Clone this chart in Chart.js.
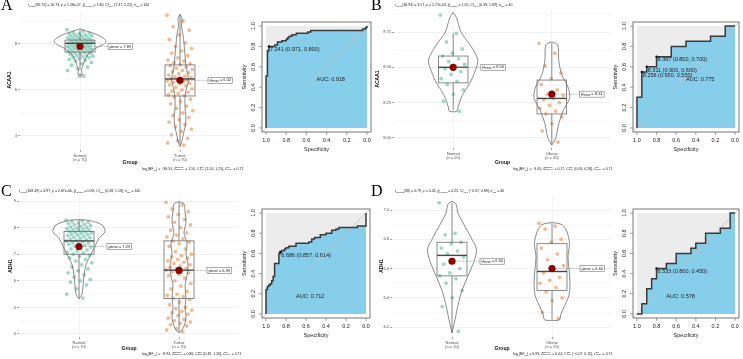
<!DOCTYPE html>
<html>
<head>
<meta charset="utf-8">
<script src="https://cdn.jsdelivr.net/npm/chart.js"></script>
<style>
body { margin: 0; width: 743px; height: 359px; position: relative; overflow: hidden; background: #fff; font-family: "Liberation Sans", Arial, sans-serif; }
canvas { position: absolute; }
.letter { position: absolute; font-family: "Liberation Serif", serif; font-size: 16px; line-height: 16px; color: #000; }
.note { position: absolute; white-space: nowrap; font-size: 7px; line-height: 8px; transform: scale(0.5); transform-origin: 0 0; color: #1a1a1a; z-index: 5; }
.note sub { font-size: 65%; vertical-align: -0.3em; line-height: 0; }
.ss { display: inline-block; vertical-align: middle; font-size: 55%; line-height: 1; }
.ss span { display: block; }
</style>
</head>
<body>
<canvas id="vA" width="250" height="172" style="left:0;top:0"></canvas>
<canvas id="vB" width="250" height="172" style="left:370px;top:0"></canvas>
<canvas id="vC" width="250" height="179" style="left:0;top:180px"></canvas>
<canvas id="vD" width="250" height="179" style="left:370px;top:180px"></canvas>
<canvas id="rA" width="145" height="140" style="left:232px;top:14px"></canvas>
<canvas id="rB" width="141" height="140" style="left:602px;top:14px"></canvas>
<canvas id="rC" width="145" height="140" style="left:232px;top:201px"></canvas>
<canvas id="rD" width="141" height="140" style="left:602px;top:201px"></canvas>

<div class="letter" style="left:1px;top:-3px">A</div>
<div class="letter" style="left:371px;top:-3px">B</div>
<div class="letter" style="left:1px;top:183px">C</div>
<div class="letter" style="left:371px;top:183px">D</div>

<div class="note" style="left:28px;top:3px"><i>t</i><sub>Welch</sub>(85.71) = 16.73, <i>p</i> = 1.58e-17, <i>ĝ</i><sub>Hedges</sub> = 1.80, CI<sub>95%</sub> [1.37, 2.22], <i>n</i><sub>obs</sub> = 140</div>
<div class="note" style="left:395px;top:3px"><i>t</i><sub>Welch</sub>(36.94) = 3.57, <i>p</i> = 1.77e-03, <i>ĝ</i><sub>Hedges</sub> = 1.05, CI<sub>95%</sub> [0.39, 1.69], <i>n</i><sub>obs</sub> = 40</div>
<div class="note" style="left:19px;top:189px"><i>t</i><sub>Welch</sub>(108.49) = 4.97, <i>p</i> = 2.87e-06, <i>ĝ</i><sub>Hedges</sub> = 0.83, CI<sub>95%</sub> [0.48, 1.18], <i>n</i><sub>obs</sub> = 140</div>
<div class="note" style="left:395px;top:189px"><i>t</i><sub>Student</sub>(38) = 0.79, <i>p</i> = 0.43, <i>ĝ</i><sub>Hedges</sub> = 0.25, CI<sub>95%</sub> [−0.37, 0.88], <i>n</i><sub>obs</sub> = 40</div>

<div class="note" style="left:142px;top:167px">log<sub>e</sub>(BF<sub>01</sub>) = −36.53, <i>δ̂</i><span class="ss"><span>posterior</span><span>difference</span></span> = 1.50, CI<span class="ss"><span>ETI</span><span>95%</span></span> [1.24, 1.75], <i>r</i><span class="ss"><span>JZS</span><span>Cauchy</span></span> = 0.71</div>
<div class="note" style="left:513px;top:167px">log<sub>e</sub>(BF<sub>01</sub>) = −3.05, <i>δ̂</i><span class="ss"><span>posterior</span><span>difference</span></span> = 0.17, CI<span class="ss"><span>ETI</span><span>95%</span></span> [0.05, 0.28], <i>r</i><span class="ss"><span>JZS</span><span>Cauchy</span></span> = 0.71</div>
<div class="note" style="left:142px;top:352px">log<sub>e</sub>(BF<sub>01</sub>) = −8.94, <i>δ̂</i><span class="ss"><span>posterior</span><span>difference</span></span> = 0.86, CI<span class="ss"><span>ETI</span><span>95%</span></span> [0.49, 1.20], <i>r</i><span class="ss"><span>JZS</span><span>Cauchy</span></span> = 0.71</div>
<div class="note" style="left:513px;top:352px">log<sub>e</sub>(BF<sub>01</sub>) = 0.93, <i>δ̂</i><span class="ss"><span>posterior</span><span>difference</span></span> = 0.04, CI<span class="ss"><span>ETI</span><span>95%</span></span> [−0.07, 0.15], <i>r</i><span class="ss"><span>JZS</span><span>Cauchy</span></span> = 0.71</div>

<script>
// ---------- panel A : ACAA1, TCGA ----------
const groupsA = ['Normal', 'Tumor'];
const countsA = [70, 70];
const normalA = [8.62,8.55,8.5,8.48,8.45,8.43,8.4,8.38,8.36,8.35,8.33,8.3,8.28,8.27,8.25,8.22,8.2,8.19,8.18,8.15,
  8.13,8.12,8.1,8.08,8.07,8.05,8.04,8.02,8.0,7.99,7.97,7.96,7.94,7.93,7.9,7.89,7.87,7.85,7.84,7.82,
  7.8,7.78,7.76,7.75,7.72,7.7,7.68,7.66,7.64,7.62,7.6,7.57,7.55,7.52,7.5,7.47,7.45,7.42,7.4,7.37,
  7.33,7.3,7.26,7.2,7.15,7.08,7.0,6.92,6.85,6.62];
const tumorA = [9.25,9.0,8.75,8.6,8.4,8.2,8.05,7.9,7.8,7.7,7.6,7.5,7.4,7.3,7.25,7.2,7.15,7.1,7.05,7.0,
  6.95,6.9,6.85,6.8,6.75,6.7,6.65,6.6,6.57,6.54,6.5,6.48,6.45,6.42,6.4,6.37,6.33,6.3,6.27,6.22,
  6.18,6.12,6.05,6.0,5.95,5.9,5.85,5.8,5.75,5.7,5.6,5.5,5.4,5.3,5.2,5.1,5.0,4.9,4.8,4.7,
  4.6,4.5,4.4,4.3,4.2,4.05,3.9,3.8,3.7,3.6];
const meansA = [7.89, 6.42];
// lower whisker, q1, median, q3, upper whisker
const boxNormalA = [6.87, 7.65, 8.03, 8.17, 8.62];
const boxTumorA = [3.6, 5.74, 6.48, 7.09, 9.26];
const outliersA = [[6.62], []];
// violin outline: [value, half width]
const violinNormalA = [[8.66,0],[8.6,0.04],[8.47,0.13],[8.3,0.22],[8.1,0.26],[7.95,0.22],[7.8,0.15],[7.6,0.09],[7.4,0.06],[7.2,0.04],[7.0,0.025],[6.85,0.015],[6.72,0.02],[6.62,0]];
const violinTumorA = [[9.3,0],[9.1,0.02],[8.8,0.015],[8.4,0.03],[8.0,0.04],[7.5,0.05],[7.0,0.06],[6.6,0.08],[6.3,0.08],[6.0,0.06],[5.6,0.05],[5.2,0.05],[4.8,0.06],[4.4,0.05],[4.0,0.03],[3.7,0.015],[3.55,0]];
const yTicksA = [4, 5, 6, 7, 8, 9];
const rocSpecA = [1,1,0.986,0.986,0.971,0.971,0.914,0.914,0.886,0.886,0.843,0.843,0.8,0.8,0.786,0.786,0.771,0.771,0.743,0.743,0.7,0.7,0.586,0.586,0.557,0.557,0.043,0.043,0.014,0.014,0,0];
const rocSensA = [0,0.51,0.51,0.757,0.757,0.8,0.8,0.814,0.814,0.843,0.843,0.857,0.857,0.871,0.871,0.886,0.886,0.9,0.9,0.914,0.914,0.929,0.929,0.943,0.943,0.957,0.957,0.971,0.971,0.986,0.986,1];
const aucA = 0.918;
const thrA = [[0.971, 0.800, '7.241']];

// ---------- panel B : ACAA1, 20 vs 20 ----------
const groupsB = ['Normal', 'Obese'];
const countsB = [20, 20];
const normalB = [8.87,8.74,8.68,8.63,8.6,8.58,8.56,8.54,8.52,8.5,8.49,8.47,8.45,8.42,8.4,8.38,8.34,8.31,8.26,8.19];
const tumorB = [8.67,8.6,8.51,8.46,8.42,8.38,8.34,8.31,8.3,8.28,8.27,8.25,8.23,8.21,8.19,8.17,8.15,8.1,8.05,7.97];
const meansB = [8.50, 8.31];
const boxNormalB = [8.2, 8.39, 8.5, 8.58, 8.74];
const boxTumorB = [7.95, 8.17, 8.28, 8.41, 8.67];
const outliersB = [[], []];
const violinNormalB = [[8.89,0],[8.85,0.035],[8.75,0.08],[8.65,0.18],[8.55,0.25],[8.47,0.22],[8.39,0.17],[8.3,0.09],[8.22,0.05],[8.19,0.04],[8.185,0]];
const violinTumorB = [[8.68,0],[8.66,0.06],[8.55,0.07],[8.45,0.1],[8.35,0.17],[8.28,0.18],[8.2,0.12],[8.1,0.07],[8.0,0.04],[7.95,0]];
const yTicksB = [8.0, 8.125, 8.25, 8.375, 8.5, 8.625, 8.75, 8.875];
const rocSpecB = [1,1,0.95,0.95,0.9,0.9,0.8,0.8,0.65,0.65,0.5,0.5,0.25,0.25,0.1,0.1,0];
const rocSensB = [0,0.3,0.3,0.55,0.55,0.6,0.6,0.7,0.7,0.8,0.8,0.85,0.85,0.9,0.9,1,1];
const aucB = 0.775;
const thrB = [[0.95, 0.55, '8.256'], [0.9, 0.6, '8.311'], [0.8, 0.7, '8.367']];

// ---------- panel C : ADH1, TCGA ----------
const groupsC = ['Normal', 'Tumor'];
const countsC = [70, 70];
const normalC = [8.28,8.25,8.22,8.2,8.17,8.15,8.12,8.1,8.08,8.05,8.03,8.0,7.98,7.96,7.94,7.92,7.9,7.88,7.86,7.84,
  7.82,7.8,7.78,7.76,7.74,7.72,7.7,7.67,7.64,7.62,7.6,7.57,7.55,7.52,7.5,7.48,7.45,7.42,7.4,7.37,
  7.34,7.3,7.27,7.24,7.2,7.16,7.12,7.08,7.04,7.0,6.96,6.92,6.86,6.8,6.74,6.68,6.6,6.52,6.45,6.38,
  6.3,6.22,6.15,6.05,6.0,5.95,5.85,5.7,5.5,5.35];
const tumorC = [8.95,8.85,8.7,8.6,8.5,8.4,8.3,8.2,8.1,8.0,7.9,7.8,7.72,7.65,7.58,7.5,7.45,7.4,7.3,7.2,
  7.1,7.0,6.95,6.9,6.85,6.8,6.75,6.7,6.65,6.6,6.55,6.5,6.47,6.44,6.41,6.38,6.35,6.3,6.25,6.2,
  6.1,6.0,5.9,5.8,5.7,5.6,5.5,5.45,5.4,5.35,5.3,5.2,5.1,5.0,4.95,4.9,4.85,4.8,4.75,4.7,
  4.6,4.55,4.5,4.45,4.4,4.35,4.3,4.2,4.15,4.08];
const meansC = [7.29, 6.39];
const boxNormalC = [5.32, 7.0, 7.5, 7.85, 8.29];
const boxTumorC = [4.07, 5.33, 6.4, 7.5, 8.96];
const outliersC = [[], []];
const violinNormalC = [[8.3,0],[8.27,0.1],[8.1,0.23],[7.85,0.26],[7.6,0.2],[7.3,0.16],[7.0,0.12],[6.6,0.07],[6.2,0.05],[5.8,0.04],[5.5,0.03],[5.32,0]];
const violinTumorC = [[8.97,0],[8.9,0.05],[8.6,0.06],[8.2,0.07],[7.8,0.05],[7.4,0.08],[7.0,0.07],[6.6,0.09],[6.2,0.08],[5.8,0.06],[5.4,0.07],[5.0,0.06],[4.6,0.07],[4.3,0.05],[4.1,0.02],[4.06,0]];
const yTicksC = [4, 4.5, 5, 5.5, 6, 6.5, 7, 7.5, 8, 8.5, 9];
const rocSpecC = [1,1,0.986,0.986,0.971,0.971,0.957,0.957,0.943,0.943,0.929,0.929,0.914,0.914,0.871,0.871,0.857,0.857,0.843,0.843,0.814,0.814,0.8,0.8,0.771,0.771,0.7,0.7,0.571,0.571,0.543,0.543,0.514,0.514,0.457,0.457,0.4,0.4,0.343,0.343,0.3,0.3,0.271,0.271,0.086,0.086,0,0];
const rocSensC = [0,0.243,0.243,0.271,0.271,0.286,0.286,0.3,0.3,0.329,0.329,0.371,0.371,0.5,0.5,0.6,0.6,0.614,0.614,0.629,0.629,0.643,0.643,0.657,0.657,0.671,0.671,0.7,0.7,0.714,0.714,0.743,0.743,0.757,0.757,0.786,0.786,0.8,0.8,0.829,0.829,0.843,0.843,0.857,0.857,0.871,0.871,1];
const aucC = 0.712;
const thrC = [[0.857, 0.614, '6.686']];

// ---------- panel D : ADH1, 20 vs 20 ----------
const groupsD = ['Normal', 'Obese'];
const countsD = [20, 20];
const normalD = [7.05,6.84,6.83,6.78,6.77,6.74,6.72,6.7,6.68,6.66,6.63,6.6,6.57,6.55,6.53,6.5,6.45,6.4,6.34,6.17];
const tumorD = [6.91,6.89,6.87,6.8,6.78,6.74,6.7,6.66,6.62,6.59,6.57,6.54,6.52,6.5,6.47,6.44,6.4,6.38,6.3,6.26];
const meansD = [6.65, 6.60];
const boxNormalD = [6.16, 6.55, 6.69, 6.78, 7.05];
const boxTumorD = [6.25, 6.45, 6.58, 6.77, 6.91];
const outliersD = [[], []];
const violinNormalD = [[7.06,0],[7.04,0.04],[6.98,0.06],[6.9,0.12],[6.8,0.2],[6.73,0.245],[6.65,0.22],[6.55,0.16],[6.45,0.1],[6.35,0.06],[6.25,0.03],[6.16,0]];
const violinTumorD = [[6.915,0],[6.9,0.1],[6.85,0.15],[6.77,0.175],[6.68,0.16],[6.6,0.17],[6.5,0.18],[6.42,0.17],[6.35,0.13],[6.29,0.09],[6.25,0.075],[6.245,0]];
const yTicksD = [6.2, 6.3, 6.4, 6.5, 6.6, 6.7, 6.8, 6.9, 7.0];
const rocSpecD = [1,0.95,0.95,0.9,0.9,0.85,0.85,0.8,0.8,0.7,0.7,0.6,0.6,0.45,0.45,0.4,0.4,0.3,0.3,0.15,0.15,0.05,0.05,0];
const rocSensD = [0,0,0.1,0.1,0.25,0.25,0.35,0.35,0.45,0.45,0.5,0.5,0.6,0.6,0.65,0.65,0.7,0.7,0.8,0.8,0.85,0.85,1,1];
const aucD = 0.578;
const thrD = [[0.8, 0.45, '6.533']];

Chart.defaults.font.family = '"Liberation Sans", Arial, sans-serif';

const pointColors = ['rgba(27,158,119,0.42)', 'rgba(217,95,2,0.42)'];
const jitter = i => (((i * 0.618034) % 1) - 0.5) * 0.26;

// box plots, outliers and mean labels for the violin panels
const violinExtras = {
  id: 'violinExtras',
  beforeDatasetDraw(chart, args, opts) {
    if (args.index !== 4) return;
    const { ctx, scales: { x, y } } = chart;
    ctx.save();
    opts.boxes.forEach((b, g) => {
      const c = x.getPixelForValue(g + 1);
      const x0 = x.getPixelForValue(g + 0.85), x1 = x.getPixelForValue(g + 1.15);
      const [lo, q1, med, q3, hi] = b.map(v => y.getPixelForValue(v));
      ctx.strokeStyle = '#6e6e6e';
      ctx.lineWidth = 0.8;
      ctx.beginPath();
      ctx.moveTo(c, q3); ctx.lineTo(c, hi);
      ctx.moveTo(c, q1); ctx.lineTo(c, lo);
      ctx.stroke();
      ctx.strokeRect(x0, q3, x1 - x0, q1 - q3);
      ctx.strokeStyle = '#474747';
      ctx.lineWidth = 1.4;
      ctx.beginPath(); ctx.moveTo(x0, med); ctx.lineTo(x1, med); ctx.stroke();
      ctx.lineWidth = 0.6;
      ctx.strokeStyle = '#555';
      opts.outliers[g].forEach(v => {
        ctx.beginPath(); ctx.arc(c, y.getPixelForValue(v), 1.6, 0, Math.PI * 2); ctx.stroke();
      });
    });
    ctx.restore();
  },
  afterDatasetsDraw(chart, args, opts) {
    const { ctx, scales: { x, y } } = chart;
    const big = '4px "Liberation Sans"', small = '2.8px "Liberation Sans"';
    opts.means.forEach((m, g) => {
      const cx = x.getPixelForValue(g + 1), cy = y.getPixelForValue(m);
      const lx = x.getPixelForValue(g + 1.28);
      ctx.save();
      ctx.strokeStyle = '#8c8c8c';
      ctx.lineWidth = 0.6;
      ctx.setLineDash([1.5, 1]);
      ctx.beginPath(); ctx.moveTo(cx + 3.5, cy); ctx.lineTo(lx, cy); ctx.stroke();
      ctx.setLineDash([]);
      const val = ' = ' + m.toFixed(2);
      ctx.font = big;
      const w1 = ctx.measureText('μ̂').width, w3 = ctx.measureText(val).width;
      ctx.font = small;
      const w2 = ctx.measureText('mean').width;
      const w = w1 + w2 + w3 + 3, h = 6;
      ctx.fillStyle = '#fff';
      ctx.fillRect(lx, cy - h / 2, w, h);
      ctx.strokeStyle = '#777';
      ctx.strokeRect(lx, cy - h / 2, w, h);
      ctx.fillStyle = '#222';
      ctx.textBaseline = 'middle';
      ctx.font = big; ctx.fillText('μ̂', lx + 1.5, cy);
      ctx.font = small; ctx.fillText('mean', lx + 1.5 + w1, cy + 1.1);
      ctx.font = big; ctx.fillText(val, lx + 1.5 + w1 + w2, cy);
      ctx.restore();
    });
  }
};

function violinChart(id, p) {
  const pointSets = p.values.map((vals, g) => ({
    data: vals.map((v, i) => ({ x: g + 1 + jitter(i), y: v })),
    pointRadius: 1.9, backgroundColor: pointColors[g], borderWidth: 0, order: 3
  }));
  const violinSets = p.violins.map((shape, g) => ({
    data: shape.map(([v, w]) => ({ x: g + 1 + w, y: v }))
      .concat(shape.slice().reverse().map(([v, w]) => ({ x: g + 1 - w, y: v }))),
    showLine: true, pointRadius: 0, borderColor: '#5a5a5a', borderWidth: 0.7, tension: 0.3, order: 2
  }));
  const meanSet = {
    data: p.means.map((m, g) => ({ x: g + 1, y: m })),
    pointRadius: 3.6, backgroundColor: '#8b0000', borderWidth: 0, order: 0
  };
  new Chart(document.getElementById(id), {
    type: 'scatter',
    data: { datasets: [...pointSets, ...violinSets, meanSet] },
    options: {
      responsive: false, animation: false, events: [],
      layout: { padding: p.pad },
      scales: {
        x: {
          type: 'linear', min: 0.4, max: 2.6,
          afterBuildTicks: ax => { ax.ticks = [{ value: 1 }, { value: 2 }]; },
          afterFit: ax => { ax.height = p.xH; },
          ticks: {
            callback: v => [p.groups[v - 1], '(n = ' + p.counts[v - 1] + ')'],
            font: { size: 4 }, color: '#4d4d4d', padding: 1, maxRotation: 0, autoSkip: false
          },
          grid: { color: '#ebebeb', lineWidth: 0.6, tickLength: 2, tickColor: '#666' },
          border: { display: false },
          title: { display: true, text: 'Group', font: { size: 5, weight: 'bold' }, color: '#111', padding: { top: 0, bottom: p.groupPad } }
        },
        y: {
          min: p.yMin, max: p.yMax,
          afterBuildTicks: ax => { ax.ticks = p.ticks.map(v => ({ value: v })); },
          afterFit: ax => { ax.width = p.yW; },
          ticks: {
            callback: v => p.major(v) ? p.fmt(v) : '',
            font: { size: 4 }, color: '#4d4d4d', padding: 1, autoSkip: false
          },
          grid: {
            color: c => c.tick && p.major(c.tick.value) ? '#e8e8e8' : '#f3f3f3',
            tickColor: c => c.tick && p.major(c.tick.value) ? '#666' : 'rgba(0,0,0,0)',
            lineWidth: 0.6, tickLength: 2
          },
          border: { display: false },
          title: { display: true, text: p.yTitle, font: { size: 5, weight: 'bold' }, color: '#111', padding: { top: p.titlePad, bottom: 0 } }
        }
      },
      plugins: {
        legend: { display: false }, tooltip: { enabled: false },
        violinExtras: { boxes: p.boxes, outliers: p.outliers, means: p.means }
      }
    },
    plugins: [violinExtras]
  });
}

// frame, axes and labels of the pROC style plots
const rocFrame = {
  id: 'rocFrame',
  beforeDraw(chart) {
    const { ctx, scales: { x, y } } = chart;
    ctx.save();
    ctx.fillStyle = '#ececec';
    const l = x.getPixelForValue(1), r = x.getPixelForValue(0), t = y.getPixelForValue(1), b = y.getPixelForValue(0);
    ctx.fillRect(l, t, r - l, b - t);
    ctx.restore();
  },
  afterDraw(chart, args, opts) {
    const { ctx, chartArea: a, scales: { x, y } } = chart;
    const vals = [0, 0.2, 0.4, 0.6, 0.8, 1];
    ctx.save();
    ctx.strokeStyle = '#777';
    ctx.lineWidth = 1;
    ctx.strokeRect(a.left, a.top, a.right - a.left, a.bottom - a.top);
    ctx.lineWidth = 0.7;
    ctx.fillStyle = '#222';
    ctx.font = '5.5px "Liberation Sans"';
    ctx.textAlign = 'center';
    ctx.textBaseline = 'middle';
    vals.forEach(v => {
      const px = x.getPixelForValue(v);
      ctx.beginPath(); ctx.moveTo(px, a.bottom); ctx.lineTo(px, a.bottom + 3); ctx.stroke();
      ctx.fillText(v.toFixed(1), px, a.bottom + 8.5);
      const py = y.getPixelForValue(v);
      ctx.beginPath(); ctx.moveTo(a.left, py); ctx.lineTo(a.left - 3, py); ctx.stroke();
      ctx.save();
      ctx.translate(a.left - 9, py); ctx.rotate(-Math.PI / 2);
      ctx.fillText(v.toFixed(1), 0, 0);
      ctx.restore();
    });
    ctx.fillText('Specificity', (x.getPixelForValue(0) + x.getPixelForValue(1)) / 2, a.bottom + 17);
    ctx.save();
    ctx.translate(a.left - 18, (y.getPixelForValue(0) + y.getPixelForValue(1)) / 2);
    ctx.rotate(-Math.PI / 2);
    ctx.fillText('Sensitivity', 0, 0);
    ctx.restore();
    ctx.textAlign = 'left';
    ctx.textBaseline = 'top';
    ctx.fillText('AUC: ' + opts.auc.toFixed(3), x.getPixelForValue(opts.aucAt[0]), y.getPixelForValue(opts.aucAt[1]));
    opts.thr.forEach(([s, se, t]) => {
      ctx.fillText(t + ' (' + s.toFixed(3) + ', ' + se.toFixed(3) + ')', x.getPixelForValue(s) + 1, y.getPixelForValue(se) + 0.6);
    });
    ctx.restore();
  }
};

function rocChart(id, spec, sens, auc, thr, aucAt, pad) {
  new Chart(document.getElementById(id), {
    type: 'scatter',
    data: {
      datasets: [
        { data: [{ x: 1.04, y: -0.04 }, { x: -0.04, y: 1.04 }], showLine: true, pointRadius: 0, borderColor: '#c2c2c2', borderWidth: 0.8, order: 2 },
        { data: spec.map((s, i) => ({ x: s, y: sens[i] })), showLine: true, pointRadius: 0, borderColor: '#3a3a3a', borderWidth: 1.5, fill: { value: 0 }, backgroundColor: '#87ceeb', order: 1 },
        { data: thr.map(t => ({ x: t[0], y: t[1] })), pointRadius: 1.2, backgroundColor: '#111', borderWidth: 0, order: 0 }
      ]
    },
    options: {
      responsive: false, animation: false, events: [],
      layout: { padding: pad },
      scales: {
        x: { type: 'linear', reverse: true, min: -0.04, max: 1.04, display: false },
        y: { type: 'linear', min: -0.04, max: 1.04, display: false }
      },
      plugins: {
        legend: { display: false }, tooltip: { enabled: false },
        filler: { drawTime: 'beforeDatasetsDraw' },
        rocFrame: { auc: auc, thr: thr, aucAt: aucAt }
      }
    },
    plugins: [rocFrame]
  });
}

violinChart('vA', {
  groups: groupsA, counts: countsA, values: [normalA, tumorA], means: meansA,
  boxes: [boxNormalA, boxTumorA], outliers: outliersA, violins: [violinNormalA, violinTumorA],
  ticks: yTicksA, major: v => v % 2 === 0, fmt: v => String(v), yMin: 3.391, yMax: 9.478,
  yTitle: 'ACAA1', pad: { left: 0, right: 10, top: 10, bottom: 0 }, yW: 20, xH: 22, groupPad: 6, titlePad: 7
});
violinChart('vB', {
  groups: groupsB, counts: countsB, values: [normalB, tumorB], means: meansB,
  boxes: [boxNormalB, boxTumorB], outliers: outliersB, violins: [violinNormalB, violinTumorB],
  ticks: yTicksB, major: v => Math.abs(v * 4 - Math.round(v * 4)) < 1e-6, fmt: v => v.toFixed(2), yMin: 7.929, yMax: 8.906,
  yTitle: 'ACAA1', pad: { left: 0, right: 9, top: 10, bottom: 0 }, yW: 24, xH: 24, groupPad: 6, titlePad: 5
});
violinChart('vC', {
  groups: groupsC, counts: countsC, values: [normalC, tumorC], means: meansC,
  boxes: [boxNormalC, boxTumorC], outliers: outliersC, violins: [violinNormalC, violinTumorC],
  ticks: yTicksC, major: v => Number.isInteger(v), fmt: v => String(v), yMin: 3.887, yMax: 9.226,
  yTitle: 'ADH1', pad: { left: 0, right: 11, top: 15, bottom: 0 }, yW: 19, xH: 22, groupPad: 7, titlePad: 8
});
violinChart('vD', {
  groups: groupsD, counts: countsD, values: [normalD, tumorD], means: meansD,
  boxes: [boxNormalD, boxTumorD], outliers: outliersD, violins: [violinNormalD, violinTumorD],
  ticks: yTicksD, major: v => Math.abs(v * 5 - Math.round(v * 5)) < 1e-6, fmt: v => v.toFixed(1), yMin: 6.132, yMax: 7.103,
  yTitle: 'ADH1', pad: { left: 0, right: 8, top: 15, bottom: 0 }, yW: 22, xH: 22, groupPad: 7, titlePad: 9
});

rocChart('rA', rocSpecA, rocSensA, aucA, thrA, [0.5, 0.5], { left: 30, right: 6, top: 8, bottom: 22 });
rocChart('rB', rocSpecB, rocSensB, aucB, thrB, [0.5, 0.5], { left: 31, right: 2, top: 8, bottom: 22 });
rocChart('rC', rocSpecC, rocSensC, aucC, thrC, [0.7, 0.2], { left: 30, right: 7, top: 8, bottom: 23 });
rocChart('rD', rocSpecD, rocSensD, aucD, thrD, [0.7, 0.2], { left: 31, right: 2, top: 8, bottom: 23 });
</script>
</body>
</html>
